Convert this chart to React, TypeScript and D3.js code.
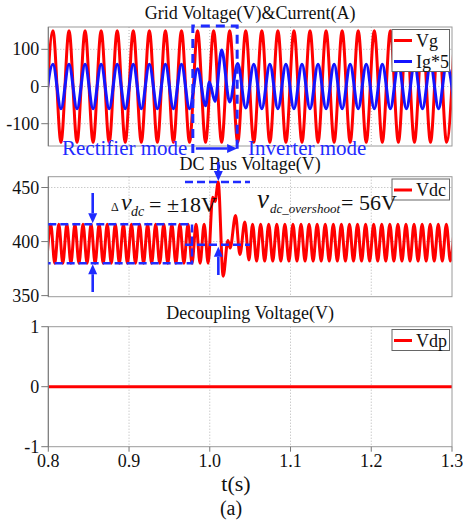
import React from "react";
import * as d3 from "d3";

const FONT = "'Liberation Serif', 'Times New Roman', serif";
const RED = "#ff0000";
const BLUE = "#1414ff";
const NOTE = "#1f2bff";
const FRAME = "#9a9a9a";
const GRID = "#b4b4b4";

const X_DOMAIN: [number, number] = [0.8, 1.3];
const X_TICKS = [0.8, 0.9, 1.0, 1.1, 1.2, 1.3];

// Grid voltage / current: one extremum per half cycle
const GRID_START = 0.7958;
const GRID_HALF_CYCLE = 0.00995;
const VG_EXTREMA = [
  -150, 150, -150, 150, -150, 150, -150, 150, -150, 150,
  -150, 150, -150, 150, -150, 150, -150, 150, -150, 150,
  -150, 150, -150, 150, -150, 150, -150, 150, -150, 150,
  -150, 150, -150, 150, -150, 150, -150, 150, -150, 150,
  -150, 150, -150, 150, -150, 150, -150, 150, -150, 150,
  -150, 150,
];
// rectifier mode: current in phase with the grid voltage
const IG_RECTIFIER = [
  -60, 60, -60, 60, -60, 60, -60, 60, -60, 60,
  -60, 60, -60, 60, -60, 60, -60, 60, -60, 48,
  -52,
];
const IG_TRANSITION: [number, number][] = [
  [0.9995, 12],
  [1.0065, -40],
];
// inverter mode: current in anti-phase
const IG_INVERTER_START_INDEX = 22;
const IG_INVERTER = [
  98, -42, 62, -58, 60, -60, 60, -60, 60, -60,
  60, -60, 60, -60, 60, -60, 60, -60, 60, -60,
  60, -60, 60, -60, 60, -60, 60, -60, 60, -60,
];

// DC bus voltage: 100 Hz ripple extrema
const VDC_START = 0.798;
const VDC_HALF_RIPPLE = 0.005;
const VDC_BEFORE = [
  380, 416, 380, 416, 380, 416, 380, 416, 380, 416,
  380, 416, 380, 416, 380, 416, 380, 416, 380, 416,
  380, 416, 380, 416, 380, 416, 380, 416, 380, 416,
  380, 416, 380, 416, 380, 416, 380, 416, 380, 416,
  380,
];
const VDC_TRANSIENT: [number, number][] = [
  [1.0035, 441],
  [1.0065, 437],
  [1.0104, 455],
  [1.0166, 368],
  [1.0224, 401],
  [1.0252, 394],
  [1.0319, 424],
  [1.0373, 388],
  [1.0434, 418],
  [1.0485, 383],
];
const VDC_AFTER_START = 1.053;
const VDC_AFTER = [
  416, 382, 416, 382, 416, 382, 416, 382, 416, 382,
  416, 382, 416, 382, 416, 382, 416, 382, 416, 382,
  416, 382, 416, 382, 416, 382, 416, 382, 416, 382,
  416, 382, 416, 382, 416, 382, 416, 382, 416, 382,
  416, 382, 416, 382, 416, 382, 416, 382, 416, 382,
  416,
];

// Decoupling capacitor voltage
const VDP_TIMES = [0.8, 1.3];
const VDP_VALUES = [0, 0];

const GRID_Y_TICKS = [-100, 0, 100];
const DC_Y_TICKS = [350, 400, 450];
const DP_Y_TICKS = [-1, 0, 1];

type Pt = [number, number];

const vgPoints: Pt[] = VG_EXTREMA.map((v, i) => [GRID_START + i * GRID_HALF_CYCLE, v]);
const igPoints: Pt[] = [
  ...IG_RECTIFIER.map((v, i) => [GRID_START + i * GRID_HALF_CYCLE, v] as Pt),
  ...IG_TRANSITION,
  ...IG_INVERTER.map(
    (v, i) => [GRID_START + (i + IG_INVERTER_START_INDEX) * GRID_HALF_CYCLE, v] as Pt
  ),
];
const vdcPoints: Pt[] = [
  ...VDC_BEFORE.map((v, i) => [VDC_START + i * VDC_HALF_RIPPLE, v] as Pt),
  ...VDC_TRANSIENT,
  ...VDC_AFTER.map((v, i) => [VDC_AFTER_START + i * VDC_HALF_RIPPLE, v] as Pt),
];
const vdpPoints: Pt[] = VDP_TIMES.map((t, i) => [t, VDP_VALUES[i]]);

const W = 463;
const H = 524;
const LEFT = 48.3;
const RIGHT = 452;

const x = d3.scaleLinear().domain(X_DOMAIN).range([LEFT, RIGHT]);

interface PanelSpec {
  id: string;
  title: string;
  titleY: number;
  top: number;
  bottom: number;
  domain: [number, number];
  ticks: number[];
  series: { pts: Pt[]; color: string; label: string }[];
  legendTop: number;
  legendHeight: number;
  showXLabels?: boolean;
}

function Arrow(props: { x1: number; y1: number; x2: number; y2: number; color: string }) {
  const { x1, y1, x2, y2, color } = props;
  const head = 10;
  const w = 9;
  const dx = x2 - x1;
  const dy = y2 - y1;
  const len = Math.hypot(dx, dy);
  const ux = dx / len;
  const uy = dy / len;
  const bx = x2 - ux * head;
  const by = y2 - uy * head;
  const px = -uy;
  const py = ux;
  return (
    <g>
      <line x1={x1} y1={y1} x2={bx} y2={by} stroke={color} strokeWidth={2.6} />
      <polygon
        points={`${x2},${y2} ${bx + (px * w) / 2},${by + (py * w) / 2} ${bx - (px * w) / 2},${by - (py * w) / 2}`}
        fill={color}
      />
    </g>
  );
}

function Panel({ spec }: { spec: PanelSpec }) {
  const y = d3.scaleLinear().domain(spec.domain).range([spec.bottom, spec.top]);
  const line = d3
    .line<Pt>()
    .x((d) => x(d[0]))
    .y((d) => y(d[1]))
    .curve(d3.curveMonotoneX);
  const clipId = `clip-${spec.id}`;
  const legendLeft = 392;
  const legendRight = 449.5;
  return (
    <g>
      <defs>
        <clipPath id={clipId}>
          <rect x={LEFT} y={spec.top} width={RIGHT - LEFT} height={spec.bottom - spec.top} />
        </clipPath>
      </defs>
      <rect x={LEFT} y={spec.top} width={RIGHT - LEFT} height={spec.bottom - spec.top} fill="#fff" />
      {/* grid */}
      {X_TICKS.slice(1, -1).map((t) => (
        <line key={`gx${t}`} x1={x(t)} x2={x(t)} y1={spec.top} y2={spec.bottom}
          stroke={GRID} strokeWidth={1} strokeDasharray="1,2" />
      ))}
      {spec.ticks
        .filter((v) => y(v) > spec.top + 2 && y(v) < spec.bottom - 2)
        .map((v) => (
          <line key={`gy${v}`} x1={LEFT} x2={RIGHT} y1={y(v)} y2={y(v)}
            stroke={GRID} strokeWidth={1} strokeDasharray="1,2" />
        ))}
      {/* series */}
      <g clipPath={`url(#${clipId})`}>
        {spec.series.map((s) => (
          <path key={s.label} d={line(s.pts) ?? ""} fill="none" stroke={s.color}
            strokeWidth={3} strokeLinejoin="round" />
        ))}
      </g>
      {/* frame */}
      <rect x={LEFT} y={spec.top} width={RIGHT - LEFT} height={spec.bottom - spec.top}
        fill="none" stroke={FRAME} strokeWidth={1} />
      <line x1={LEFT} x2={LEFT} y1={spec.top} y2={spec.bottom} stroke="#777" strokeWidth={1} />
      {/* y ticks */}
      {spec.ticks.map((v) => (
        <g key={`ty${v}`}>
          <line x1={LEFT - 7} x2={LEFT} y1={y(v)} y2={y(v)} stroke="#777" strokeWidth={1} />
          <text x={LEFT - 9} y={y(v)} dy="0.34em" textAnchor="end" fontFamily={FONT}
            fontSize={18} fill="#111">{v}</text>
        </g>
      ))}
      {spec.showXLabels &&
        X_TICKS.map((t) => (
          <g key={`tx${t}`}>
            <line x1={x(t)} x2={x(t)} y1={spec.bottom} y2={spec.bottom + 5} stroke="#777" strokeWidth={1} />
            <text x={x(t)} y={spec.bottom + 20} textAnchor="middle" fontFamily={FONT}
              fontSize={18} fill="#111">{t.toFixed(1)}</text>
          </g>
        ))}
      {/* title */}
      <text x={(LEFT + RIGHT) / 2} y={spec.titleY} textAnchor="middle" fontFamily={FONT}
        fontSize={18} fill="#111">{spec.title}</text>
      {/* legend */}
      <rect x={legendLeft} y={spec.legendTop} width={legendRight - legendLeft}
        height={spec.legendHeight} fill="#fff" stroke="#666" strokeWidth={1} />
      {spec.series.map((s, i) => {
        const cy = spec.legendTop + 11 + i * 21;
        return (
          <g key={`lg${s.label}`}>
            <line x1={legendLeft + 2} x2={legendLeft + 20} y1={cy} y2={cy} stroke={s.color} strokeWidth={3} />
            <text x={legendLeft + 24} y={cy + 6} fontFamily={FONT} fontSize={18} fill="#111">{s.label}</text>
          </g>
        );
      })}
    </g>
  );
}

const PANELS: PanelSpec[] = [
  {
    id: "grid",
    title: "Grid Voltage(V)&Current(A)",
    titleY: 19,
    top: 27,
    bottom: 146,
    domain: [-160, 160],
    ticks: GRID_Y_TICKS,
    series: [
      { pts: vgPoints, color: RED, label: "Vg" },
      { pts: igPoints, color: BLUE, label: "Ig*5" },
    ],
    legendTop: 29.5,
    legendHeight: 42,
  },
  {
    id: "dc",
    title: "DC Bus Voltage(V)",
    titleY: 169.5,
    top: 176.7,
    bottom: 296.7,
    domain: [349, 460],
    ticks: DC_Y_TICKS,
    series: [{ pts: vdcPoints, color: RED, label: "Vdc" }],
    legendTop: 179,
    legendHeight: 21,
  },
  {
    id: "dp",
    title: "Decoupling Voltage(V)",
    titleY: 318.5,
    top: 326.7,
    bottom: 446.7,
    domain: [-1, 1],
    ticks: DP_Y_TICKS,
    series: [{ pts: vdpPoints, color: RED, label: "Vdp" }],
    legendTop: 329.5,
    legendHeight: 21,
    showXLabels: true,
  },
];

export default function App() {
  const yDc = d3.scaleLinear().domain(PANELS[1].domain).range([PANELS[1].bottom, PANELS[1].top]);
  const rectL = x(0.979);
  const rectR = x(1.0339);
  const rippleR = x(0.978);
  const deltaX = x(0.855);
  const peakX = x(1.0106);
  const osL = x(0.9693);
  const osR = x(1.0498);
  return (
    <svg width={W} height={H} style={{ position: "absolute", left: 0, top: 0, background: "#fff" }}>
      {PANELS.map((p) => (
        <Panel key={p.id} spec={p} />
      ))}

      {/* mode change marker */}
      <path d={`M${rectL},153 L${rectL},26 L${rectR},26 L${rectR},153`} fill="none"
        stroke={NOTE} strokeWidth={3} strokeDasharray="9,6" />
      <Arrow x1={rectL + 3} y1={148.5} x2={rectR} y2={148.5} color={NOTE} />
      <text x={62} y={155} fontFamily={FONT} fontSize={21} fill={NOTE}>Rectifier mode</text>
      <text x={248} y={155} fontFamily={FONT} fontSize={21} fill={NOTE}>Inverter mode</text>

      {/* ripple band */}
      <path d={`M${LEFT},${yDc(416)} L${rippleR},${yDc(416)} L${rippleR},${yDc(380)} L${LEFT},${yDc(380)}`}
        fill="none" stroke={NOTE} strokeWidth={2.5} strokeDasharray="8,4" />
      <Arrow x1={deltaX} y1={193} x2={deltaX} y2={yDc(416) - 1} color={NOTE} />
      <Arrow x1={deltaX} y1={292} x2={deltaX} y2={yDc(380) + 1} color={NOTE} />

      {/* overshoot */}
      <line x1={osL} x2={osR} y1={yDc(455)} y2={yDc(455)} stroke={NOTE} strokeWidth={2.5} strokeDasharray="8,4" />
      <line x1={osL} x2={osR} y1={yDc(397)} y2={yDc(397)} stroke={NOTE} strokeWidth={2.5} strokeDasharray="8,4" />
      <Arrow x1={peakX} y1={162} x2={peakX} y2={yDc(455) - 1} color={NOTE} />
      <Arrow x1={peakX} y1={275} x2={peakX} y2={yDc(397) + 2} color={NOTE} />

      {/* ripple text */}
      <text x={111} y={211} fontFamily={FONT} fontSize={12} fill="#111">Δ</text>
      <text x={121} y={210} fontFamily={FONT} fontSize={24} fontStyle="italic" fill="#111">v</text>
      <text x={131} y={216} fontFamily={FONT} fontSize={14} fontStyle="italic" fill="#111">dc</text>
      <text x={149} y={212} fontFamily={FONT} fontSize={22} fill="#111">= ±18V</text>

      {/* overshoot text */}
      <text x={257} y={208} fontFamily={FONT} fontSize={27} fontStyle="italic" fill="#111">v</text>
      <text x={270} y={213} fontFamily={FONT} fontSize={13} fontStyle="italic" fill="#111">dc_overshoot</text>
      <text x={341} y={210} fontFamily={FONT} fontSize={22} fill="#111">= 56V</text>

      {/* axis label and caption */}
      <text x={236} y={491} textAnchor="middle" fontFamily={FONT} fontSize={22} fill="#111">t(s)</text>
      <text x={231} y={515} textAnchor="middle" fontFamily={FONT} fontSize={20} fill="#111">(a)</text>
    </svg>
  );
}
